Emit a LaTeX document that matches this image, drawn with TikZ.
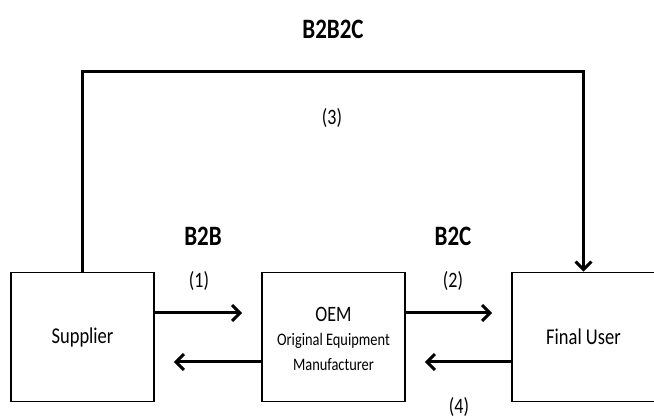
\documentclass[tikz,border=0pt]{standalone}
\usepackage{fontspec}
\setmainfont{Carlito}
\usetikzlibrary{arrows.meta}
\newcommand{\tallt}[1]{\scalebox{1}[1.22]{#1}}
\begin{document}
\begin{tikzpicture}[x=1pt,y=-1pt,
  box/.style={draw=black,line width=1.6pt,minimum width=143pt,minimum height=129pt,inner sep=0pt,
    font=\fontsize{18.5}{22}\selectfont},
  arr/.style={line width=3pt,-{Straight Barb[length=8pt,width=16pt,line width=3pt]}},
  head/.style={font=\fontsize{23}{26}\selectfont\bfseries},
  num/.style={font=\fontsize{18}{22}\selectfont},
  small/.style={font=\fontsize{14.4}{17}\selectfont}]
\useasboundingbox (0,0) rectangle (654,419);
\node[box] (sup) at (82.5,337) {\tallt{Supplier}};
\node[box] (oem) at (333.5,337) {};
\node[num] (oemt) at (333.5,314) {\tallt{OEM}};
\node[small] (oems1) at (333.5,341) {\tallt{Original Equipment}};
\node[small] (oems2) at (333.5,365) {\tallt{Manufacturer}};
\node[box] (fu) at (583.5,337) {\tallt{Final User}};
\node[head] (t1) at (333,29) {\tallt{B2B2C}};
\node[head] (t2) at (203,236) {\tallt{B2B}};
\node[head] (t3) at (453,236) {\tallt{B2C}};
\node[num] (n3) at (332,118) {\tallt{(3)}};
\node[num] (n1) at (199,281) {\tallt{(1)}};
\node[num] (n2) at (453,281) {\tallt{(2)}};
\node[num] (n4) at (459,407) {\tallt{(4)}};
\draw[arr,line join=miter] (sup.north) -- ++(0,-200) -| (fu.north);
\draw[arr] (sup.east |- 0,313) -- ([xshift=-19pt]oem.west |- 0,313);
\draw[arr] (oem.west |- 0,362) -- ([xshift=19pt]sup.east |- 0,362);
\draw[arr] (oem.east |- 0,313) -- ([xshift=-19pt]fu.west |- 0,313);
\draw[arr] (fu.west |- 0,362) -- ([xshift=19pt]oem.east |- 0,362);
\end{tikzpicture}
\end{document}
